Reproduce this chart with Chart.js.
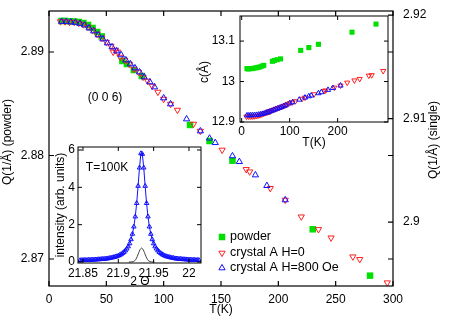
<!DOCTYPE html>
<html>
<head>
<meta charset="utf-8">
<script src="https://cdn.jsdelivr.net/npm/chart.js@4.4.1/dist/chart.umd.min.js"></script>
<style>
  body { margin: 0; background: #fff; }
  #wrap { position: relative; width: 455px; height: 319px; }
  canvas { position: absolute; }
  #main { left: 0; top: 0; }
  #ins1 { left: 193px; top: 10px; }
  #ins2 { left: 50px; top: 140px; }
</style>
</head>
<body>
<div id="wrap">
  <canvas id="main" width="455" height="319"></canvas>
  <canvas id="ins1" width="200" height="145"></canvas>
  <canvas id="ins2" width="160" height="155"></canvas>
</div>
<script>
// powder (left axis) and lattice constant c for the inset
var powderT = [11, 14, 18, 22, 26, 30, 34, 38, 42, 46, 64, 68, 74, 81, 123, 140, 160, 230, 280];
var powderQ = [2.89300, 2.89300, 2.89297, 2.89295, 2.89290, 2.89280, 2.89261, 2.89232, 2.89193, 2.89150,
               2.88913, 2.88884, 2.88826, 2.88768, 2.88295, 2.88140, 2.87950, 2.87287, 2.86839];
var powderC = [13.032, 13.031, 13.032, 13.032, 13.033, 13.034, 13.035, 13.036, 13.038, 13.040,
               13.050, 13.052, 13.054, 13.056, 13.077, 13.084, 13.092, 13.122, 13.142];

// crystal A, H=0 (right axis)
var redT = [10, 14, 18, 22, 26, 30, 34, 38, 42, 46, 50, 54, 56, 58, 60, 62, 66, 70, 74, 78,
            82, 86, 90, 95, 100, 106, 112, 126, 132, 151, 172, 175, 193, 206, 220, 235, 246, 265, 271, 295];
var redQ = [2.91937, 2.91937, 2.91932, 2.91932, 2.91923, 2.91908, 2.91884, 2.91855, 2.91816, 2.91778,
            2.91739, 2.91700, 2.91643, 2.91662, 2.91643, 2.91594, 2.91565, 2.91527, 2.91478, 2.91449,
            2.91401, 2.91362, 2.91314, 2.91256, 2.91188, 2.91140, 2.91082, 2.90947, 2.90879, 2.90696,
            2.90509, 2.90486, 2.90326, 2.90213, 2.90051, 2.89929, 2.89848, 2.89665, 2.89640, 2.89414];
var redC = [12.9134, 12.9134, 12.9136, 12.9136, 12.9140, 12.9147, 12.9157, 12.9170, 12.9188, 12.9204,
            12.9222, 12.9239, 12.9264, 12.9256, 12.9264, 12.9286, 12.9299, 12.9316, 12.9337, 12.9350,
            12.9372, 12.9389, 12.9410, 12.9436, 12.9466, 12.9488, 12.9514, 12.9574, 12.9604, 12.9686,
            12.9769, 12.9779, 12.9851, 12.9901, 12.9974, 13.0028, 13.0065, 13.0147, 13.0158, 13.0260];

// crystal A, H=800 Oe (right axis)
var blueT = [11, 15, 19, 23, 27, 31, 35, 39, 43, 47, 51, 55, 59, 63, 67, 71, 75, 79, 83, 88,
             92, 100, 106, 120, 132, 140, 145, 160, 166, 180, 190, 206];
var blueQ = [2.91937, 2.91937, 2.91932, 2.91928, 2.91918, 2.91903, 2.91874, 2.91845, 2.91807, 2.91768,
             2.91729, 2.91691, 2.91652, 2.91614, 2.91565, 2.91527, 2.91488, 2.91449, 2.91401, 2.91353,
             2.91304, 2.91198, 2.91140, 2.90995, 2.90879, 2.90809, 2.90766, 2.90638, 2.90583, 2.90454,
             2.90351, 2.90213];
var blueC = [12.9164, 12.9164, 12.9166, 12.9168, 12.9170, 12.9175, 12.9182, 12.9190, 12.9200, 12.9212,
             12.9226, 12.9243, 12.9260, 12.9277, 12.9299, 12.9316, 12.9333, 12.9350, 12.9372, 12.9393,
             12.9415, 12.9462, 12.9488, 12.9552, 12.9604, 12.9635, 12.9654, 12.9711, 12.9736, 12.9794,
             12.9840, 12.9901];

// (0 0 6) scan at T=100K
var scanX = [21.846, 21.848, 21.85, 21.852, 21.854, 21.856, 21.858, 21.86, 21.862, 21.864,
             21.866, 21.868, 21.87, 21.872, 21.874, 21.876, 21.878, 21.88, 21.882, 21.884,
             21.886, 21.888, 21.89, 21.892, 21.894, 21.896, 21.898, 21.9, 21.902, 21.904,
             21.906, 21.908, 21.91, 21.912, 21.914, 21.916, 21.918, 21.92, 21.922, 21.924,
             21.926, 21.928, 21.93, 21.932,
             21.934, 21.936, 21.938, 21.94, 21.942, 21.944, 21.946, 21.948, 21.95, 21.952,
             21.954, 21.956, 21.958, 21.96, 21.962, 21.964, 21.966, 21.968, 21.97, 21.972,
             21.974, 21.976, 21.978, 21.98, 21.982, 21.984, 21.986, 21.988, 21.99, 21.992,
             21.994, 21.996, 21.998, 22, 22.002, 22.004, 22.006, 22.008, 22.01, 22.012, 22.014];
var scanI = [0.09, 0.09, 0.10, 0.10, 0.10, 0.10, 0.11, 0.11, 0.11, 0.12,
             0.12, 0.13, 0.13, 0.14, 0.14, 0.15, 0.16, 0.16, 0.17, 0.18,
             0.19, 0.21, 0.22, 0.24, 0.26, 0.28, 0.30, 0.33, 0.37, 0.41,
             0.47, 0.53, 0.61, 0.71, 0.83, 0.99, 1.21, 1.50, 1.89, 2.43,
             3.15, 4.07, 5.05, 5.82,
             5.78, 5.05, 4.07, 3.15, 2.43, 1.89, 1.50, 1.21, 0.99, 0.83,
             0.71, 0.61, 0.53, 0.47, 0.41, 0.37, 0.33, 0.30, 0.28, 0.26,
             0.24, 0.22, 0.21, 0.19, 0.18, 0.17, 0.16, 0.16, 0.15, 0.14,
             0.14, 0.13, 0.13, 0.12, 0.12, 0.11, 0.11, 0.11, 0.10, 0.10, 0.10];
var calcX = [21.915, 21.917, 21.919, 21.921, 21.923, 21.925, 21.927, 21.929, 21.931, 21.933,
             21.935, 21.937, 21.939, 21.941, 21.943, 21.945, 21.947, 21.949, 21.951];
var calcI = [0, 0, 0.01, 0.02, 0.06, 0.15, 0.31, 0.51, 0.68, 0.75,
             0.68, 0.51, 0.31, 0.15, 0.06, 0.02, 0.01, 0, 0];

// tick labels
var tTicks = [0, 50, 100, 150, 200, 250, 300];
var qPowderTicks = [2.87, 2.88, 2.89];
var qSingleTicks = [2.9, 2.91, 2.92];
var insetTTicks = [0, 100, 200];
var cTicks = [12.9, 13, 13.1];
var thetaTicks = [21.85, 21.9, 21.95, 22];
var intTicks = [0, 2, 4, 6];

var FONT = '"Liberation Sans", Arial, sans-serif';
var GREEN = '#00e000', RED = '#ff2020', BLUE = '#1010ff';

Chart.defaults.font.family = FONT;
Chart.defaults.font.size = 12;
Chart.defaults.color = '#000';
Chart.defaults.animation = false;

function pts(xs, ys) {
    return xs.map(function (x, i) { return {x: x, y: ys[i]}; });
}

function axis(pos, min, max, ticks, pad, size, w, h) {
    return {
        type: 'linear', position: pos, min: min, max: max,
        grid: {display: false, drawTicks: false, tickLength: 0},
        border: {display: false},
        ticks: {padding: pad, font: {size: size}, maxRotation: 0,
                callback: function (v) { return String(+v.toFixed(3)); }},
        afterBuildTicks: function (s) { s.ticks = ticks.map(function (v) { return {value: v}; }); },
        afterFit: function (s) {
            if (w !== null) s.width = w;
            if (h !== null) s.height = h;
            s.paddingTop = 0; s.paddingBottom = 0; s.paddingLeft = 0; s.paddingRight = 0;
        }
    };
}

function mark(ctx, style, x, y, r, rot) {
    ctx.beginPath();
    if (style === 'rect') {
        var s = r * Math.SQRT1_2;
        ctx.rect(x - s, y - s, 2 * s, 2 * s);
    } else {
        var a = rot * Math.PI / 180;
        ctx.moveTo(x + Math.sin(a) * r, y - Math.cos(a) * r);
        for (var k = 0; k < 2; k++) {
            a += 2 * Math.PI / 3;
            ctx.lineTo(x + Math.sin(a) * r, y - Math.cos(a) * r);
        }
        ctx.closePath();
    }
}

// box, inward ticks, free texts and legend
var frame = {
    id: 'frame',
    beforeDraw: function (chart, args, o) {
        if (!o.fill) return;
        var a = chart.chartArea, ctx = chart.ctx;
        ctx.save();
        ctx.fillStyle = '#fff';
        ctx.fillRect(a.left, a.top, a.right - a.left, a.bottom - a.top);
        ctx.restore();
    },
    afterDraw: function (chart, args, o) {
        var ctx = chart.ctx, a = chart.chartArea, len = o.len;
        ctx.save();
        ctx.strokeStyle = '#000';
        ctx.lineWidth = o.lw;
        ctx.strokeRect(a.left, a.top, a.right - a.left, a.bottom - a.top);
        ctx.beginPath();
        Object.keys(chart.scales).forEach(function (id) {
            var s = chart.scales[id];
            s.ticks.forEach(function (t) {
                var p = s.getPixelForValue(t.value);
                if (s.isHorizontal()) {
                    ctx.moveTo(p, a.bottom); ctx.lineTo(p, a.bottom - len);
                    ctx.moveTo(p, a.top); ctx.lineTo(p, a.top + len);
                } else if (s.position === 'left') {
                    ctx.moveTo(a.left, p); ctx.lineTo(a.left + len, p);
                    ctx.moveTo(a.right, p); ctx.lineTo(a.right - len, p);
                } else {
                    ctx.moveTo(a.right, p); ctx.lineTo(a.right - len, p);
                }
            });
        });
        ctx.stroke();
        ctx.fillStyle = '#000';
        ctx.textBaseline = 'middle';
        (o.texts || []).forEach(function (t) {
            ctx.save();
            ctx.translate(t.x, t.y);
            if (t.rot) ctx.rotate(t.rot);
            ctx.font = (t.size || 12) + 'px ' + FONT;
            ctx.textAlign = t.align || 'center';
            ctx.fillText(t.s, 0, 0);
            ctx.restore();
        });
        (o.legend || []).forEach(function (l) {
            var ds = chart.data.datasets[l.ds];
            ctx.lineWidth = 1;
            ctx.fillStyle = ds.pointBackgroundColor;
            ctx.strokeStyle = ds.pointBorderColor;
            mark(ctx, ds.pointStyle, l.x, l.y, ds.pointRadius, ds.pointRotation || 0);
            ctx.fill();
            if (ds.pointBorderWidth > 0) ctx.stroke();
            ctx.fillStyle = '#000';
            ctx.font = '12.5px ' + FONT;
            ctx.textAlign = 'left';
            ctx.fillText(ds.label, l.x + 8, l.y);
        });
        ctx.restore();
    }
};

function sym(label, xs, ys, style, color, r, rot, filled, yAxis, order) {
    return {
        label: label, data: pts(xs, ys), yAxisID: yAxis, order: order,
        pointStyle: style, pointRadius: r, pointRotation: rot,
        pointBackgroundColor: filled ? color : 'rgba(0,0,0,0)',
        pointBorderColor: color, pointBorderWidth: filled ? 0 : 1
    };
}

new Chart(document.getElementById('main'), {
    type: 'scatter',
    data: {
        datasets: [
            sym('powder', powderT, powderQ, 'rect', GREEN, 4.6, 0, true, 'y', 3),
            sym('crystal A H=0', redT, redQ, 'triangle', RED, 3.6, 180, false, 'y2', 2),
            sym('crystal A H=800 Oe', blueT, blueQ, 'triangle', BLUE, 3.6, 0, false, 'y2', 1)
        ]
    },
    options: {
        responsive: false,
        events: [],
        layout: {padding: {top: 11, left: 0, right: 0, bottom: 0}},
        scales: {
            x: axis('bottom', 0, 300, tTicks, 6, 12, null, 33),
            y: axis('left', 2.86739, 2.89396, qPowderTicks, 5, 12, 49, null),
            y2: axis('right', 2.89382, 2.92039, qSingleTicks, 10, 12, 62, null)
        },
        plugins: {
            legend: {display: false},
            tooltip: {enabled: false},
            frame: {
                len: 5, lw: 1.2,
                texts: [
                    {s: '(0 0 6)', x: 105, y: 98},
                    {s: 'T(K)', x: 221, y: 310},
                    {s: 'Q(1/\u00c5) (powder)', x: 8, y: 142, rot: -Math.PI / 2},
                    {s: 'Q(1/\u00c5) (single)', x: 434, y: 140, rot: -Math.PI / 2}
                ],
                legend: [
                    {ds: 0, x: 222, y: 237},
                    {ds: 1, x: 222, y: 253},
                    {ds: 2, x: 222, y: 268}
                ]
            }
        }
    },
    plugins: [frame]
});

new Chart(document.getElementById('ins1'), {
    type: 'scatter',
    data: {
        datasets: [
            sym('powder', powderT, powderC, 'rect', GREEN, 3.6, 0, true, 'y', 3),
            sym('crystal A H=0', redT, redC, 'triangle', RED, 3, 180, false, 'y', 2),
            sym('crystal A H=800 Oe', blueT, blueC, 'triangle', BLUE, 3, 0, false, 'y', 1)
        ]
    },
    options: {
        responsive: false,
        events: [],
        layout: {padding: {top: 6, left: 0, right: 4, bottom: 0}},
        scales: {
            x: axis('bottom', -3.5, 305, insetTTicks, 2, 12, null, 33),
            y: axis('left', 12.9, 13.162, cTicks, 5, 12, 47, null)
        },
        plugins: {
            legend: {display: false},
            tooltip: {enabled: false},
            frame: {
                len: 4, lw: 1, fill: true,
                texts: [
                    {s: 'T(K)', x: 121, y: 133},
                    {s: 'c(\u00c5)', x: 12, y: 62, rot: -Math.PI / 2}
                ]
            }
        }
    },
    plugins: [frame]
});

new Chart(document.getElementById('ins2'), {
    type: 'scatter',
    data: {
        datasets: [
            {label: 'calc', data: pts(calcX, calcI), showLine: true, borderColor: '#444',
             borderWidth: 1, pointRadius: 0, order: 2},
            {label: 'T=100K', data: pts(scanX, scanI), showLine: true, borderColor: BLUE,
             borderWidth: 1, pointStyle: 'triangle', pointRadius: 2.6,
             pointBackgroundColor: 'rgba(0,0,0,0)', pointBorderColor: BLUE, pointBorderWidth: 1, order: 1}
        ]
    },
    options: {
        responsive: false,
        events: [],
        layout: {padding: {top: 7, left: 0, right: 9, bottom: 0}},
        scales: {
            x: axis('bottom', 21.843, 22.017, thetaTicks, 3, 12, null, 32),
            y: axis('left', -0.054, 6.16, intTicks, 3, 12, 28, null)
        },
        plugins: {
            legend: {display: false},
            tooltip: {enabled: false},
            frame: {
                len: 4, lw: 1, fill: true,
                texts: [
                    {s: 'T=100K', x: 57, y: 28},
                    {s: '2 \u0398', x: 90, y: 142},
                    {s: 'intensity (arb. units)', x: 11, y: 65, rot: -Math.PI / 2}
                ]
            }
        }
    },
    plugins: [frame]
});
</script>
</body>
</html>
